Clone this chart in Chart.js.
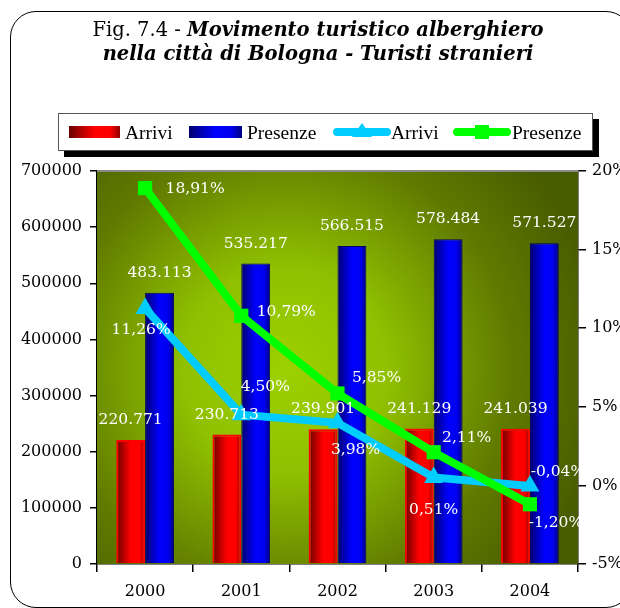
<!DOCTYPE html>
<html>
<head>
<meta charset="utf-8">
<script src="https://cdn.jsdelivr.net/npm/chart.js@4.4.0/dist/chart.umd.min.js"></script>
<style>
html, body { margin: 0; padding: 0; background: #fff; }
#wrap { position: relative; width: 620px; height: 608px; overflow: hidden; }
#frame { position: absolute; left: 10px; top: 11px; width: 620px; height: 595px; border: 1.5px solid #000; border-radius: 26px; }
#title { position: absolute; left: 0; top: 18px; width: 636px; text-align: center; font-family: "DejaVu Serif"; font-size: 19.5px; line-height: 24px; color: #000; }
#title b { font-style: italic; }
#legend { position: absolute; left: 58px; top: 113px; width: 533px; height: 36px; border: 1px solid #555; background: #fff; box-shadow: 6px 6px 0 #000; }
.sw { position: absolute; top: 12px; height: 12px; }
.txt { position: absolute; top: 0; height: 36px; line-height: 37px; font-family: "Liberation Serif"; font-size: 19.5px; color: #000; }
.ln { position: absolute; top: 8px; }
canvas { position: absolute; left: 0; top: 0; }
</style>
</head>
<body>
<div id="wrap">
  <div id="frame"></div>
  <canvas id="c" width="620" height="608"></canvas>
  <div id="title">Fig. 7.4 - <b>Movimento turistico alberghiero<br>nella città di Bologna - Turisti stranieri</b></div>
  <div id="legend">
    <div class="sw" style="left:10px;width:51px;background:linear-gradient(90deg,#6a0000,#ff0000 50%,#ff0000 80%,#900000);"></div>
    <div class="txt" style="left:66px;">Arrivi</div>
    <div class="sw" style="left:130px;width:53px;background:linear-gradient(90deg,#000070,#0000ff 50%,#0000ee 80%,#000080);"></div>
    <div class="txt" style="left:188px;">Presenze</div>
    <svg class="ln" style="left:274px" width="58" height="20">
      <line x1="4" y1="10" x2="54" y2="10" stroke="#00ccff" stroke-width="8" stroke-linecap="round"/>
      <polygon points="29,1 39,15 19,15" fill="#00ccff"/>
    </svg>
    <div class="txt" style="left:332px;">Arrivi</div>
    <svg class="ln" style="left:394px" width="58" height="20">
      <line x1="4" y1="10" x2="54" y2="10" stroke="#00ff00" stroke-width="8" stroke-linecap="round"/>
      <rect x="22" y="3" width="14" height="14" fill="#00ff00"/>
    </svg>
    <div class="txt" style="left:453px;">Presenze</div>
  </div>
</div>
<script>
// dati
const anni = ["2000", "2001", "2002", "2003", "2004"];
const arrivi = [220771, 230713, 239901, 241129, 241039];
const presenze = [483113, 535217, 566515, 578484, 571527];
// variazioni % sull'anno precedente
const varArrivi = [11.26, 4.50, 3.98, 0.51, -0.04];
const varPresenze = [18.91, 10.79, 5.85, 2.11, -1.20];

// posizione delle etichette delle linee rispetto al punto (dx, dy)
const offArrivi = [[-4, 22], [24, -28], [18, 27], [0, 33], [28, -14]];
const offPresenze = [[50, 1], [45, -4], [39, -15], [33, -14], [26, 19]];

const serif = '"DejaVu Serif", serif';

const fmtNum = (v) => String(v).replace(/\B(?=(\d{3})+(?!\d))/g, ".");
const fmtPct = (v) => v.toFixed(2).replace(".", ",") + "%";

// gradiente orizzontale per ogni barra
const barGradient = (stops, side) => (context) => {
    const chart = context.chart;
    const xs = chart.scales.x;
    if (!xs || !chart.chartArea) return stops[1];
    const w = chart.chartArea.width / anni.length;
    const barW = w * 0.3;
    const cx = xs.getPixelForValue(context.dataIndex) + side * w * 0.15;
    const g = chart.ctx.createLinearGradient(cx - barW / 2, 0, cx + barW / 2, 0);
    g.addColorStop(0, stops[0]);
    g.addColorStop(0.5, stops[1]);
    g.addColorStop(0.8, stops[2]);
    g.addColorStop(1, stops[3]);
    return g;
};

const sfondo = {
    id: "sfondo",
    beforeDatasetsDraw(chart) {
        const { ctx, chartArea: a } = chart;
        const g = ctx.createRadialGradient(285, 370, 10, 285, 370, 320);
        g.addColorStop(0, "#9ccf00");
        g.addColorStop(0.3, "#90c000");
        g.addColorStop(0.7, "#5f7a00");
        g.addColorStop(1, "#485c00");
        ctx.save();
        ctx.fillStyle = g;
        ctx.fillRect(a.left, a.top, a.width, a.height);
        ctx.strokeStyle = "#8a8a8a";
        ctx.lineWidth = 2;
        ctx.beginPath();
        ctx.moveTo(a.left, a.top);
        ctx.lineTo(a.right, a.top);
        ctx.stroke();
        ctx.restore();
    },
};

const etichette = {
    id: "etichette",
    afterDatasetsDraw(chart) {
        const { ctx, chartArea: a } = chart;
        ctx.save();
        ctx.beginPath();
        ctx.rect(a.left, a.top - 40, a.width + 2, a.height + 40);
        ctx.clip();
        ctx.fillStyle = "#fff";
        ctx.font = "15.5px " + serif;
        ctx.textAlign = "center";
        ctx.textBaseline = "middle";
        [0, 1].forEach((di) => {
            const meta = chart.getDatasetMeta(di);
            const vals = chart.data.datasets[di].data;
            meta.data.forEach((el, i) => {
                ctx.fillText(fmtNum(vals[i]), el.x, el.y - 20);
            });
        });
        [[2, offArrivi], [3, offPresenze]].forEach(([di, off]) => {
            const meta = chart.getDatasetMeta(di);
            const vals = chart.data.datasets[di].data;
            meta.data.forEach((el, i) => {
                ctx.fillText(fmtPct(vals[i]), el.x + off[i][0], el.y + off[i][1]);
            });
        });
        ctx.restore();
    },
};

const tickFont = { family: serif, size: 16 };

new Chart(document.getElementById("c"), {
    data: {
        labels: anni,
        datasets: [
            {
                type: "bar",
                label: "Arrivi",
                data: arrivi,
                yAxisID: "y",
                order: 2,
                backgroundColor: barGradient(["#6a0000", "#ff0000", "#ff0000", "#a00000"], -1),
                borderColor: "#ff0000",
                borderWidth: 2,
                categoryPercentage: 0.6,
                barPercentage: 1,
            },
            {
                type: "bar",
                label: "Presenze",
                data: presenze,
                yAxisID: "y",
                order: 3,
                backgroundColor: barGradient(["#000070", "#0000ff", "#0000ee", "#000080"], 1),
                borderColor: "#000060",
                borderWidth: 1,
                categoryPercentage: 0.6,
                barPercentage: 1,
            },
            {
                type: "line",
                label: "Arrivi",
                data: varArrivi,
                yAxisID: "y1",
                order: 1,
                borderColor: "#00ccff",
                backgroundColor: "#00ccff",
                borderWidth: 8,
                pointStyle: "triangle",
                pointRadius: 11,
                pointBorderWidth: 0,
                tension: 0,
            },
            {
                type: "line",
                label: "Presenze",
                data: varPresenze,
                yAxisID: "y1",
                order: 0,
                borderColor: "#00ff00",
                backgroundColor: "#00ff00",
                borderWidth: 8,
                pointStyle: "rect",
                pointRadius: 10,
                pointBorderWidth: 0,
                tension: 0,
            },
        ],
    },
    options: {
        responsive: false,
        animation: false,
        devicePixelRatio: 1,
        layout: { padding: { top: 171, left: 0, right: 0, bottom: 0 } },
        plugins: {
            legend: { display: false },
            tooltip: { enabled: false },
        },
        scales: {
            x: {
                offset: true,
                grid: { offset: true, drawOnChartArea: false, tickLength: 8, color: "#000", lineWidth: 1.5 },
                border: { color: "#000", width: 1.5 },
                ticks: { color: "#000", font: tickFont, padding: 10 },
                afterFit: (s) => { s.height = 44; },
            },
            y: {
                position: "left",
                min: 0,
                max: 700000,
                ticks: { stepSize: 100000, color: "#000", font: tickFont, padding: 8, callback: (v) => String(v) },
                grid: { drawOnChartArea: false, tickLength: 7, color: "#000", lineWidth: 1.5 },
                border: { color: "#000", width: 1.5 },
                afterFit: (s) => { s.width = 97; },
            },
            y1: {
                position: "right",
                min: -5,
                max: 20,
                ticks: { stepSize: 5, color: "#000", font: tickFont, padding: 6, callback: (v) => v + "%" },
                grid: { drawOnChartArea: false, tickLength: 8, color: "#000", lineWidth: 1.5 },
                border: { color: "#000", width: 1.5 },
                afterFit: (s) => { s.width = 42; },
            },
        },
    },
    plugins: [sfondo, etichette],
});
</script>
</body>
</html>
